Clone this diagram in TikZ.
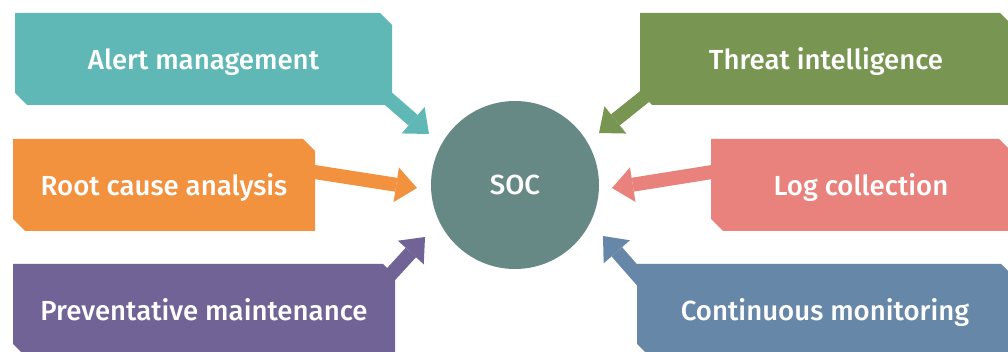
\documentclass[tikz,border=0pt]{standalone}
\usepackage{fontspec}
\setmainfont{Fira Sans}[BoldFont={Fira Sans Medium}]
\usetikzlibrary{shapes.misc,arrows.meta,calc,backgrounds}

\definecolor{alertcol}{HTML}{5FB8B5}
\definecolor{rootcol}{HTML}{F2913E}
\definecolor{prevcol}{HTML}{716396}
\definecolor{threatcol}{HTML}{789552}
\definecolor{logcol}{HTML}{E9827D}
\definecolor{moncol}{HTML}{6787A8}
\definecolor{soccol}{HTML}{678985}

\begin{document}
\begin{tikzpicture}[x=0.5pt, y=-0.5pt,
    box/.style={chamfered rectangle, chamfered rectangle corners={north east, south west},
        chamfered rectangle xsep=3pt, chamfered rectangle ysep=3pt,
        minimum height=46pt, inner sep=0pt, outer sep=0pt, text=white, text depth=0pt,
        font=\bfseries\fontsize{13.8pt}{16pt}\selectfont},
    link/.style={line width=7pt, -{Triangle[width=17.5pt, length=10.5pt, line width=0pt]}}]
    \useasboundingbox (0, 0) rectangle (1008, 352);
    \clip (0, 0) rectangle (1008, 352);

    \node[circle, fill=soccol, minimum size=84pt, inner sep=0pt, text=white,
        font=\bfseries\fontsize{13.8pt}{16pt}\selectfont] (soc) at (515, 185) {SOC};

    \node[box, fill=alertcol, minimum width=188.5pt] (alert) at (203.5, 59) {Alert management};
    \node[box, fill=rootcol, minimum width=151pt] (root) at (164, 185) {Root cause analysis};
    \node[box, fill=prevcol, minimum width=191pt] (prev) at (204, 310) {Preventative maintenance};

    \node[box, fill=threatcol, minimum width=186pt] (threat) at (826, 59) {Threat intelligence};
    \node[box, fill=logcol, minimum width=150pt] (log) at (861, 185) {Log collection};
    \node[box, fill=moncol, minimum width=188pt] (mon) at (825, 310) {Continuous monitoring};

    \begin{scope}[on background layer]
    \draw[link, alertcol] ($(alert.south east) + (-24, -24)$) -- ($(soc) + (-86, -51)$);
    \draw[link, rootcol] ($(root.east) + (-20, -16)$) -- ($(soc) + (-98, 3)$);
    \draw[link, prevcol] ($(prev.north east) + (-17, 25)$) -- ($(soc) + (-90, 52)$);

    \draw[link, threatcol] ($(threat.south west) + (18, -18)$) -- ($(soc) + (84, -52)$);
    \draw[link, logcol] ($(log.west) + (20, -16)$) -- ($(soc) + (97, 3)$);
    \draw[link, moncol] ($(mon.north west) + (15, 28)$) -- ($(soc) + (88, 51)$);
    \end{scope}
\end{tikzpicture}
\end{document}
